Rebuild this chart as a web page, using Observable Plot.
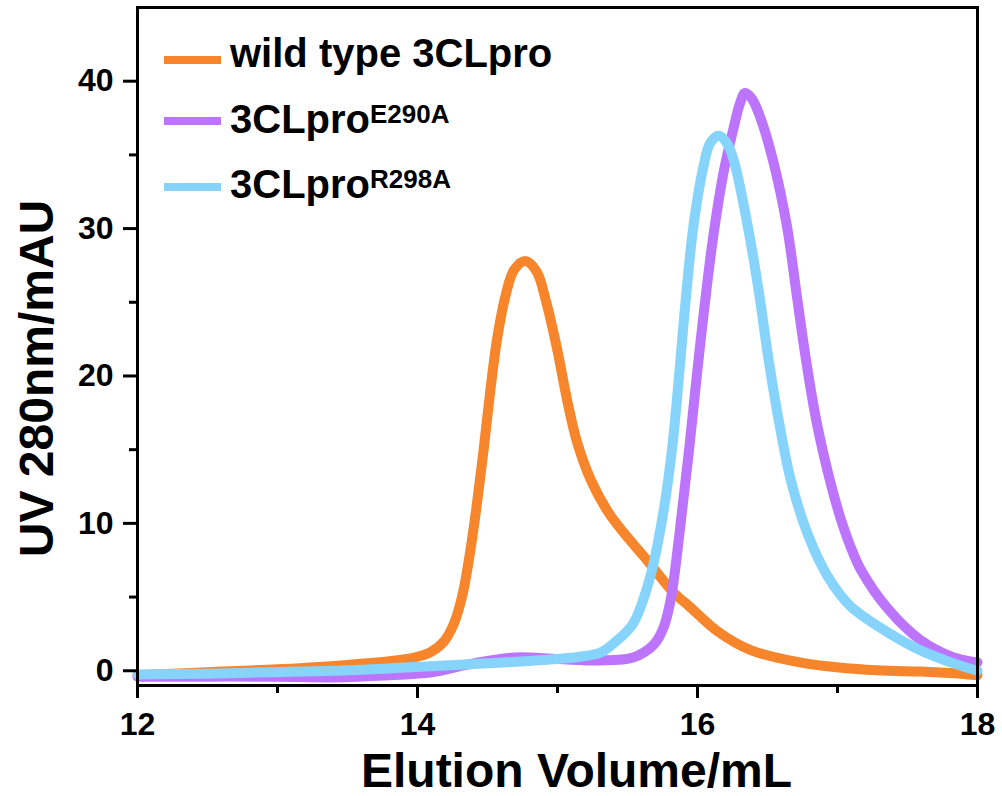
<!DOCTYPE html>
<html><head><meta charset="utf-8">
<script src="https://cdn.jsdelivr.net/npm/d3@7"></script>
<script src="https://cdn.jsdelivr.net/npm/@observablehq/plot@0.6"></script>
<style>
html,body{margin:0;padding:0;background:#fff;}
#chart{position:relative;width:1002px;height:796px;}
</style></head><body><div id="chart"></div>
<script>
// Series labels and colours
const seriesKeys = ["wt", "E290A", "R298A"];
const seriesLabels = ["wild type 3CLpro", "3CLpro", "3CLpro"];
const seriesSup = ["", "E290A", "R298A"];
const seriesColors = ["#F6852B", "#BD74FC", "#86D4FC"];

// wild type 3CLpro
const wtX = [12.0, 12.5, 13.0, 13.5, 13.8, 14.0, 14.1, 14.19, 14.26, 14.32, 14.37, 14.42, 14.47, 14.52, 14.57, 14.63, 14.69, 14.77, 14.85, 14.92, 15.00, 15.07, 15.14, 15.24, 15.36, 15.47, 15.64, 15.83, 15.95, 16.14, 16.38, 16.74, 17.09, 17.36, 17.59, 17.80, 18.0];
const wtY = [-0.3, -0.1, 0.1, 0.4, 0.65, 0.95, 1.3, 2.0, 3.2, 5.1, 7.7, 11.0, 14.8, 19.0, 22.6, 25.5, 27.2, 27.8, 27.1, 25.0, 21.7, 18.3, 15.5, 12.9, 10.8, 9.4, 7.5, 5.3, 4.3, 2.7, 1.4, 0.55, 0.15, 0.0, -0.05, -0.15, -0.3];

// 3CLpro E290A
const e290X = [12.0, 12.5, 13.0, 13.4, 13.8, 14.1, 14.4, 14.69, 15.0, 15.3, 15.54, 15.69, 15.76, 15.81, 15.87, 15.94, 16.02, 16.11, 16.19, 16.26, 16.30, 16.34, 16.39, 16.45, 16.54, 16.64, 16.71, 16.77, 16.84, 16.90, 16.96, 17.02, 17.09, 17.17, 17.36, 17.59, 17.83, 18.0];
const e290Y = [-0.4, -0.4, -0.4, -0.45, -0.3, -0.1, 0.5, 0.9, 0.8, 0.7, 0.9, 1.8, 3.0, 4.9, 9.2, 15.0, 22.2, 29.3, 34.0, 36.9, 38.4, 39.2, 38.8, 37.5, 34.6, 30.1, 25.4, 21.4, 17.4, 14.7, 12.4, 10.4, 8.5, 6.8, 4.2, 2.1, 0.9, 0.57];

// 3CLpro R298A
const r298X = [12.0, 12.5, 12.93, 13.4, 13.88, 14.2, 14.59, 15.0, 15.16, 15.31, 15.40, 15.54, 15.66, 15.75, 15.82, 15.88, 15.92, 15.97, 16.04, 16.09, 16.15, 16.21, 16.26, 16.36, 16.44, 16.50, 16.58, 16.67, 16.79, 16.93, 17.09, 17.36, 17.59, 17.83, 18.0];
const r298Y = [-0.25, -0.2, -0.1, 0.0, 0.2, 0.35, 0.55, 0.8, 0.95, 1.25, 1.85, 3.2, 6.3, 10.4, 15.2, 21.3, 25.6, 30.1, 34.1, 35.8, 36.3, 35.8, 34.6, 30.1, 25.6, 21.6, 17.0, 12.8, 9.2, 6.4, 4.4, 2.6, 1.4, 0.5, 0.0];

// Axis ticks
const xTicks = [12, 14, 16, 18];
const xMinor = [13, 15, 17];
const yTicks = [0, 10, 20, 30, 40];
const yMinor = [5, 15, 25, 35];
const xTitle = "Elution Volume/mL";
const yTitle = "UV 280nm/mAU";

const toRows = (xs, ys, key) => xs.map((x, i) => ({x, y: ys[i], series: key}));
const wtRows = toRows(wtX, wtY, "wt");
const e290Rows = toRows(e290X, e290Y, "E290A");
const r298Rows = toRows(r298X, r298Y, "R298A");

const font = "'Liberation Sans', Arial, Helvetica, sans-serif";
const lineOpts = {x: "x", y: "y", stroke: "series", strokeWidth: 10, curve: "catmull-rom", strokeLinejoin: "round"};
const fmt = d => String(d);

const plot = Plot.plot({
  width: 1002, height: 796,
  marginLeft: 137, marginRight: 25, marginTop: 7, marginBottom: 111,
  x: {domain: [12, 18]},
  y: {domain: [-1, 45]},
  color: {domain: seriesKeys, range: seriesColors},
  style: {fontFamily: font, fontWeight: "bold", color: "#000", background: "#fff", overflow: "visible"},
  marks: [
    Plot.line(wtRows, lineOpts),
    Plot.line(e290Rows, lineOpts),
    Plot.line(r298Rows, lineOpts),
    Plot.axisX(xTicks, {tickSize: 13, tickPadding: 14, strokeWidth: 3, fontSize: 32, tickFormat: fmt, label: null}),
    Plot.axisX(xMinor, {tickSize: 8, strokeWidth: 3, fill: "none", label: null}),
    Plot.axisY(yTicks, {tickSize: 14, tickPadding: 10, strokeWidth: 3, fontSize: 32, tickFormat: fmt, label: null}),
    Plot.axisY(yMinor, {tickSize: 8, strokeWidth: 3, fill: "none", label: null}),
    Plot.frame({strokeWidth: 3}),
    Plot.text([xTitle], {text: d => d, frameAnchor: "bottom", textAnchor: "middle", lineAnchor: "middle", dx: 19, dy: 86, fontSize: 48, fontWeight: "bold", fill: "#000"}),
    Plot.text([yTitle], {text: d => d, frameAnchor: "left", textAnchor: "middle", lineAnchor: "middle", rotate: -90, dx: -100, dy: 32, fontSize: 48, fontWeight: "bold", fill: "#000"})
  ]
});
document.getElementById("chart").appendChild(plot);

// Legend (inside the plot area, top-left)
const svg = d3.select(plot);
const lg = svg.append("g").attr("font-family", font).attr("font-weight", "bold").attr("fill", "#000").attr("text-anchor", "start");
const swatchY = [60, 121, 187];
const baseY = [67, 133, 198];
seriesKeys.forEach((k, i) => {
  lg.append("line").attr("x1", 164).attr("x2", 221).attr("y1", swatchY[i]).attr("y2", swatchY[i])
    .attr("stroke", seriesColors[i]).attr("stroke-width", 8);
  const t = lg.append("text").attr("x", 230).attr("y", baseY[i]).attr("font-size", 40).attr("text-anchor", "start").text(seriesLabels[i]);
  if (seriesSup[i]) {
    t.append("tspan").attr("font-size", 26).attr("dy", -10).text(seriesSup[i]);
  }
});
</script>
</body></html>
